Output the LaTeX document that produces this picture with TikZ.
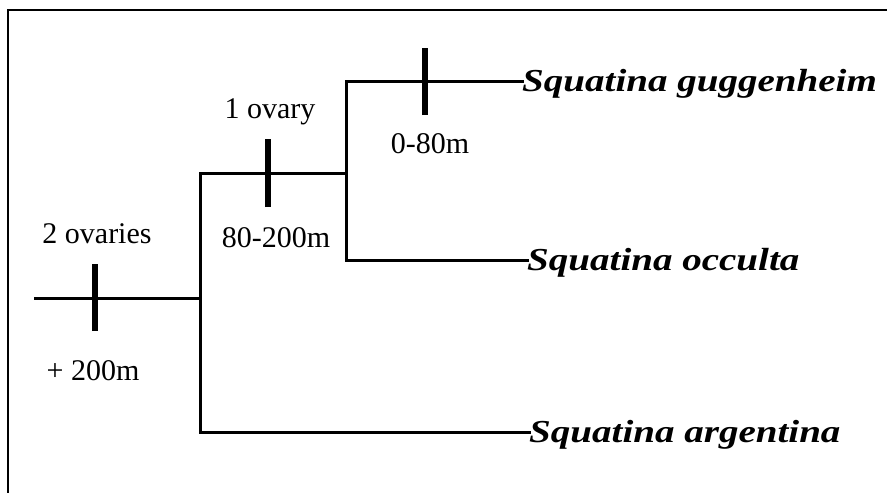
\documentclass[tikz,border=0pt]{standalone}
\usepackage{fontspec}
\setmainfont{Liberation Serif}
\newfontfamily\speciesfont[FakeStretch=1.22]{Liberation Serif}
\tikzset{
  branch/.style={line width=3pt, line cap=rect},
  tick/.style={line width=6pt},
  trait/.style={font=\fontsize{30}{30}\selectfont, inner sep=0pt, anchor=base},
  species/.style={font=\speciesfont\bfseries\itshape\fontsize{32}{32}\selectfont, inner sep=0pt, anchor=base west}
}
\begin{document}
\begin{tikzpicture}[x=1pt, y=-1pt]
    \useasboundingbox (0, 0) rectangle (887, 493);
    % 边框
    \draw[line width=2pt] (7.5, 493) -- (7.5, 9.5) -- (887, 9.5);

    % 分支点
    \coordinate (root) at (35, 298);
    \coordinate (n1) at (200, 298);
    \coordinate (n1top) at (200, 173);
    \coordinate (n1bot) at (200, 432);
    \coordinate (n2) at (346, 173);
    \coordinate (n2top) at (346, 81);
    \coordinate (n2bot) at (346, 260);

    % 物种
    \node[species] (gugg) at (522, 91) {Squatina guggenheim};
    \node[species] (occ) at (527, 270) {Squatina occulta};
    \node[species] (arg) at (529, 442) {Squatina argentina};

    % 树枝
    \draw[branch] (root) -- (n1);
    \draw[branch] (n1bot) -- (n1top) -- (n2);
    \draw[branch] (n2bot) -- (n2top) -- (gugg.west |- n2top);
    \draw[branch] (n2bot) -- (occ.west |- n2bot);
    \draw[branch] (n1bot) -- (arg.west |- n1bot);

    % 性状标记
    \coordinate (t1) at (95, 298);
    \coordinate (t2) at (268, 173);
    \coordinate (t3) at (425, 81);
    \draw[tick] ([yshift=-33pt]t1) -- ([yshift=34pt]t1);
    \draw[tick] ([yshift=-34pt]t2) -- ([yshift=34pt]t2);
    \draw[tick] ([yshift=-34pt]t3) -- ([yshift=33pt]t3);

    % 标注
    \node[trait] (ov2) at (97, 243) {2 ovaries};
    \node[trait] (d200) at (93, 380) {+ 200m};
    \node[trait] (ov1) at (270, 118) {1 ovary};
    \node[trait] (d80) at (276, 247) {80-200m};
    \node[trait] (d0) at (430, 153) {0-80m};
\end{tikzpicture}
\end{document}
